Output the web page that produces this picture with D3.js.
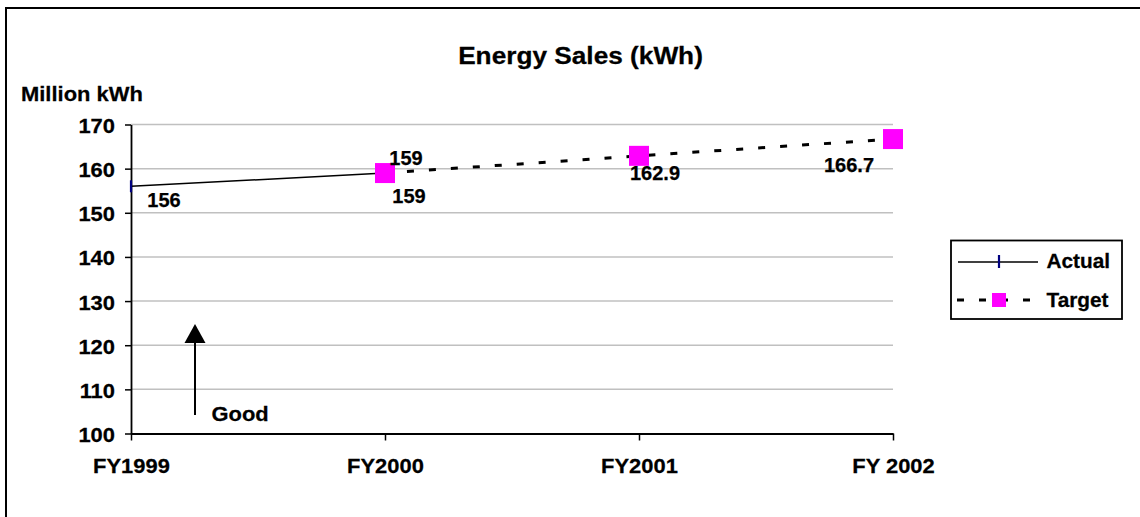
<!DOCTYPE html>
<html>
<head>
<meta charset="utf-8">
<script src="https://cdn.jsdelivr.net/npm/d3@7"></script>
<style>
  html, body { margin: 0; padding: 0; background: #fff; }
  svg text { font-family: "Liberation Sans", Arial, sans-serif; font-weight: bold; fill: #000; stroke: #000; stroke-width: 0.25px; }
</style>
</head>
<body>
<svg id="chart" width="1140" height="517"></svg>
<script>
// ---- data ----
const categories = ["FY1999", "FY2000", "FY2001", "FY 2002"];
const actual = [156, 159, null, null];
const target = [null, 159, 162.9, 166.7];
const yTicks = [100, 110, 120, 130, 140, 150, 160, 170];
const seriesNames = ["Actual", "Target"];
const titleText = "Energy Sales (kWh)";
const yTitleText = "Million kWh";
const noteText = "Good";

// ---- layout ----
const svg = d3.select("#chart");
const x = d3.scalePoint().domain(categories).range([131, 893]).padding(0);
const y = d3.scaleLinear().domain([100, 170]).range([433.5, 124.5]);

function txt(g, px, py, s, fs, sx, anchor) {
  return g.append("text")
    .attr("transform", `translate(${px},${py}) scale(${sx},1)`)
    .attr("text-anchor", anchor || "start")
    .style("font-size", fs + "px")
    .text(s);
}

// outer border (extends beyond the visible area)
svg.append("rect").attr("x", 6).attr("y", 8).attr("width", 1300).attr("height", 700)
  .attr("fill", "none").attr("stroke", "#000").attr("stroke-width", 2);

// title
txt(svg, 580.5, 63.5, titleText, 23, 1.14, "middle");
txt(svg, 21, 101, yTitleText, 20.5, 1.07, "start");

// gridlines
svg.append("g").selectAll("line").data(yTicks.filter(d => d > 100)).join("line")
  .attr("x1", x(categories[0])).attr("x2", x(categories[categories.length - 1]))
  .attr("y1", d => y(d)).attr("y2", d => y(d))
  .attr("stroke", "#c0c0c0").attr("stroke-width", 1.5);

// y axis
const gy = svg.append("g").attr("transform", `translate(${x(categories[0])},0)`)
  .call(d3.axisLeft(y).tickValues(yTicks).tickSize(6).tickSizeOuter(0));
gy.select(".domain").attr("stroke", "#000").attr("stroke-width", 1.8);
gy.selectAll(".tick line").attr("stroke", "#000").attr("stroke-width", 1.5);
gy.selectAll(".tick text")
  .attr("x", null).attr("dy", null).attr("y", 8)
  .attr("transform", "translate(-16,0) scale(1.07,1)")
  .attr("font-size", null).style("font-size", "20.5px")
  .attr("font-family", null).attr("fill", "#000");

// x axis
const gx = svg.append("g").attr("transform", `translate(0,${y(100)})`)
  .call(d3.axisBottom(x).tickSize(7).tickSizeOuter(0));
gx.select(".domain").attr("stroke", "#000").attr("stroke-width", 1.8);
gx.selectAll(".tick line").attr("stroke", "#000").attr("stroke-width", 1.5);
gx.selectAll(".tick text")
  .attr("y", null).attr("dy", null)
  .attr("transform", "translate(0,39.5) scale(1.07,1)")
  .attr("font-size", null).style("font-size", "20.5px")
  .attr("font-family", null).attr("fill", "#000");

// series
const line = d3.line().defined(d => d.v != null).x(d => x(d.c)).y(d => y(d.v));
const actualPts = categories.map((c, i) => ({ c, v: actual[i] }));
const targetPts = categories.map((c, i) => ({ c, v: target[i] }));

svg.append("path").datum(actualPts).attr("d", line)
  .attr("fill", "none").attr("stroke", "#000").attr("stroke-width", 1.5);
svg.append("path").datum(targetPts).attr("d", line)
  .attr("fill", "none").attr("stroke", "#000").attr("stroke-width", 3)
  .attr("stroke-dasharray", "7,15");

// actual markers (navy vertical dash)
svg.append("g").selectAll("line").data(actualPts.filter(d => d.v != null && d.c === categories[0])).join("line")
  .attr("x1", d => x(d.c)).attr("x2", d => x(d.c))
  .attr("y1", d => y(d.v) - 6).attr("y2", d => y(d.v) + 6)
  .attr("stroke", "#000080").attr("stroke-width", 2.2);

// target markers
svg.append("g").selectAll("rect").data(targetPts.filter(d => d.v != null)).join("rect")
  .attr("x", d => x(d.c) - 10).attr("y", d => y(d.v) - 10)
  .attr("width", 20).attr("height", 20).attr("fill", "#ff00ff");

// data labels
const actualLabelOffsets = [[33, 20.5], [21, -8], null, null];
const targetLabelOffsets = [null, [24, 29.6], [16, 24.5], [-44, 32.5]];
actualPts.forEach((d, i) => {
  if (d.v == null) return;
  const o = actualLabelOffsets[i];
  txt(svg, x(d.c) + o[0], y(d.v) + o[1], String(d.v), 20, 1.0, "middle");
});
targetPts.forEach((d, i) => {
  if (d.v == null) return;
  const o = targetLabelOffsets[i];
  txt(svg, x(d.c) + o[0], y(d.v) + o[1], String(d.v), 20, 1.0, "middle");
});

// "Good" arrow
const arrowX = 195;
svg.append("line").attr("x1", arrowX).attr("x2", arrowX).attr("y1", 415).attr("y2", 340)
  .attr("stroke", "#000").attr("stroke-width", 2);
svg.append("path").attr("d", `M${arrowX},324 L${arrowX - 10.5},343 L${arrowX + 10.5},343 Z`).attr("fill", "#000");
txt(svg, 211.5, 420.5, noteText, 20.5, 1.07, "start");

// legend
const lg = svg.append("g");
lg.append("rect").attr("x", 951).attr("y", 240.5).attr("width", 171).attr("height", 78.5)
  .attr("fill", "#fff").attr("stroke", "#000").attr("stroke-width", 1.8);
// Actual row
lg.append("line").attr("x1", 958).attr("x2", 1038).attr("y1", 262).attr("y2", 262)
  .attr("stroke", "#000").attr("stroke-width", 1.5);
lg.append("line").attr("x1", 999).attr("x2", 999).attr("y1", 255).attr("y2", 268)
  .attr("stroke", "#000080").attr("stroke-width", 2.2);
txt(lg, 1046.5, 268, seriesNames[0], 20, 1.04, "start");
// Target row
lg.append("line").attr("x1", 957).attr("x2", 1040).attr("y1", 300).attr("y2", 300)
  .attr("stroke", "#000").attr("stroke-width", 3).attr("stroke-dasharray", "7,15");
lg.append("rect").attr("x", 992).attr("y", 293).attr("width", 14).attr("height", 14).attr("fill", "#ff00ff");
txt(lg, 1046.5, 306.5, seriesNames[1], 20, 1.04, "start");
</script>
</body>
</html>
